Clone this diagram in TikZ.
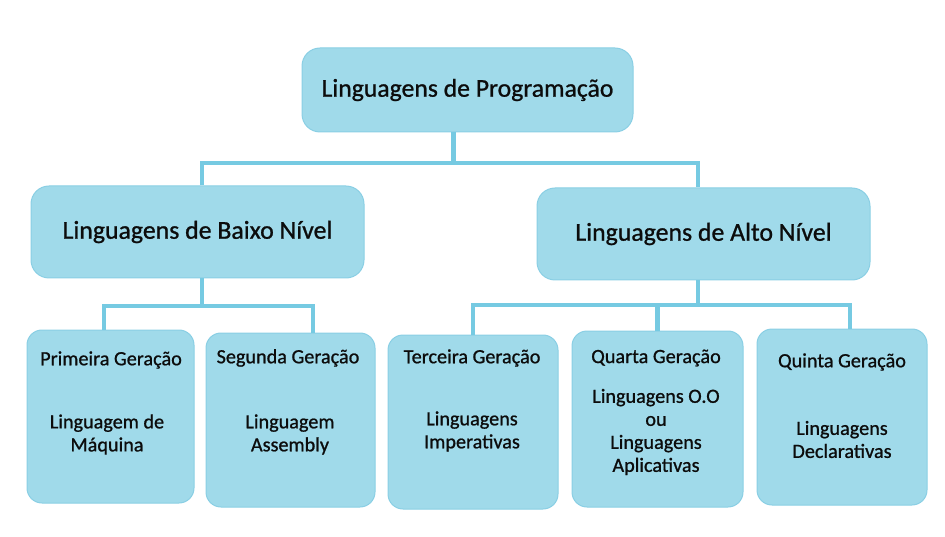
\documentclass[tikz,border=0pt]{standalone}
\usepackage{fontspec}
\setmainfont{Carlito}[FakeBold=0.9]
\definecolor{boxfill}{RGB}{160,218,234}
\definecolor{boxedge}{RGB}{138,207,228}
\definecolor{conncol}{RGB}{118,202,226}
\definecolor{ink}{RGB}{12,12,12}
\begin{document}
\begin{tikzpicture}[x=1pt,y=-1pt,
  bigbox/.style={draw=boxedge, line width=1pt, fill=boxfill, rounded corners=18pt, inner sep=0pt, text=ink},
  genbox/.style={draw=boxedge, line width=1pt, fill=boxfill, rounded corners=15pt, inner sep=0pt},
  gentext/.style={text=ink, font=\fontsize{20.2}{23}\selectfont, align=center, inner sep=0pt},
  conn/.style={draw=conncol, line width=4.5pt}]
\useasboundingbox (0,0) rectangle (945,537);
% boxes
\node[bigbox, minimum width=331pt, minimum height=84pt, font=\fontsize{25.7}{30}\selectfont] (root) at (467.5,90) {Linguagens de Programação};
\node[bigbox, minimum width=333pt, minimum height=92pt, font=\fontsize{25.8}{30}\selectfont] (low) at (197.5,232) {Linguagens de Baixo Nível};
\node[bigbox, minimum width=333pt, minimum height=92pt, font=\fontsize{25.8}{30}\selectfont] (high) at (703.5,234) {Linguagens de Alto Nível};
\node[genbox, minimum width=167pt, minimum height=173pt] (g1) at (110.5,416.5) {};
\node[genbox, minimum width=169pt, minimum height=174pt] (g2) at (290.5,420) {};
\node[genbox, minimum width=170pt, minimum height=174pt] (g3) at (473,422) {};
\node[genbox, minimum width=171pt, minimum height=176pt] (g4) at (657.5,419) {};
\node[genbox, minimum width=170pt, minimum height=176pt] (g5) at (842,417) {};
% texts
\node[gentext] (t1h) at (111,360) {Primeira Geração};
\node[gentext] (t1b) at (107,434.5) {Linguagem de\\Máquina};
\node[gentext] (t2h) at (288,358) {Segunda Geração};
\node[gentext] (t2b) at (290,434.5) {Linguagem\\Assembly};
\node[gentext] (t3h) at (472,358) {Terceira Geração};
\node[gentext] (t3b) at (472,431.5) {Linguagens\\Imperativas};
\node[gentext] (t4h) at (656,358) {Quarta Geração};
\node[gentext] (t4b) at (656,432) {Linguagens O.O\\ou\\Linguagens\\Aplicativas};
\node[gentext] (t5h) at (842,362) {Quinta Geração};
\node[gentext] (t5b) at (842,439.5) {Linguagens\\Declarativas};
% buses
\coordinate (bus1) at (0,163);
\coordinate (bus2) at (0,306);
\coordinate (bus3) at (0,305);
% connectors
\draw[conn] ([xshift=-14pt]root.south) -- ([xshift=-14pt]root.south |- bus1);
\draw[conn] ([xshift=4.5pt]low.north) |- ([xshift=-5.5pt]high.north |- bus1) -- ([xshift=-5.5pt]high.north);
\draw[conn] ([xshift=4.5pt]low.south) -- ([xshift=4.5pt]low.south |- bus2);
\draw[conn] ([xshift=-6.5pt]g1.north) |- ([xshift=22.5pt]g2.north |- bus2) -- ([xshift=22.5pt]g2.north);
\draw[conn] ([xshift=-5.5pt]high.south) -- ([xshift=-5.5pt]high.south |- bus3);
\draw[conn] (g3.north) |- ([xshift=8pt]g5.north |- bus3) -- ([xshift=8pt]g5.north);
\draw[conn] (g4.north) -- (g4.north |- bus3);
\end{tikzpicture}
\end{document}
